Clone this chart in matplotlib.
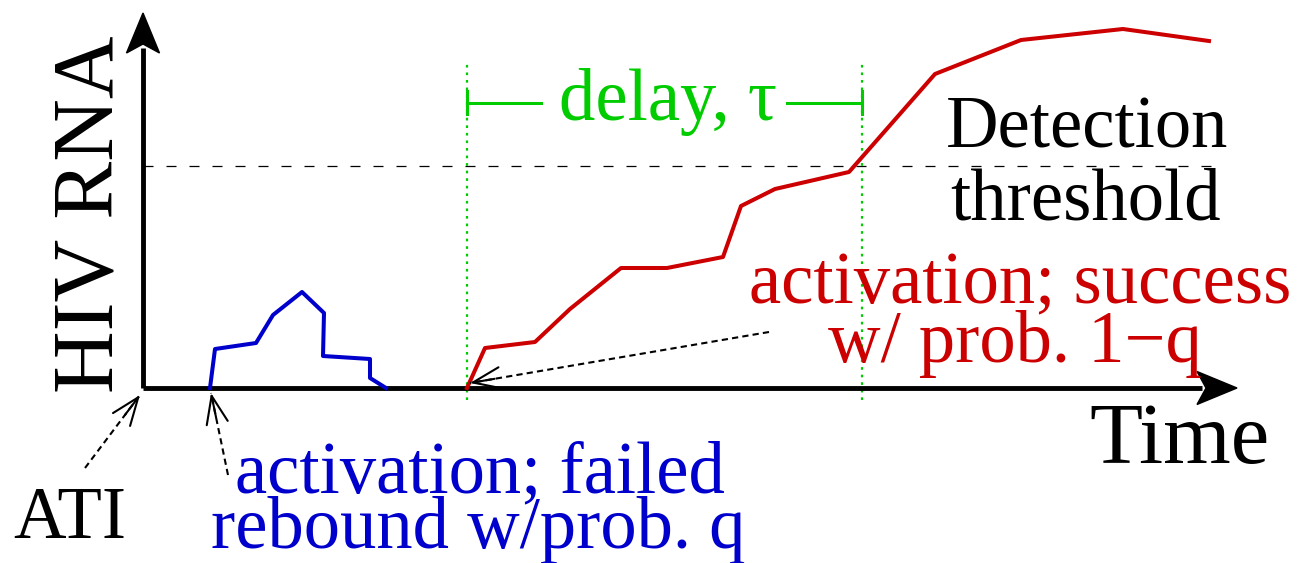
import numpy as np
import matplotlib
matplotlib.use("Agg")
import matplotlib.pyplot as plt

# Schematic of viral rebound after ATI (units: arbitrary time / arbitrary RNA)
# Failed rebound (blue)
blue_t = [6.7, 7.2, 11.3, 13.0, 15.9, 18.1, 18.0, 22.7, 22.7, 24.3]
blue_v = [0.0, 3.9, 4.5, 7.3, 9.6, 7.5, 3.2, 2.9, 1.0, 0.0]

# Successful rebound (red)
red_t = [32.4, 34.2, 39.2, 42.7, 47.8, 52.4, 58.0, 59.8, 63.2, 70.6, 79.2, 87.8, 98.0, 106.6]
red_v = [0.0, 4.0, 4.6, 7.9, 12.0, 12.0, 13.1, 18.2, 19.9, 21.6, 31.4, 34.8, 35.9, 34.7]

threshold = 22.2
t_activation = 32.4
t_detect = 71.9
t_end = 109.4
v_end = 37.5

RED = "#cc0000"
BLUE = "#0000cc"
GREEN = "#00cc00"
FONT = "Liberation Serif"
FS = 52.3      # annotation text
FS_AX = 62.5   # axis labels

fig = plt.figure(figsize=(13.03, 5.63), dpi=100)
ax = fig.add_axes([0, 0, 1, 1])
ax.set_xlim(-14.3, 116.0)
ax.set_ylim(-17.5, 38.8)
ax.axis("off")

# --- axes with arrow heads ---
ax.plot([0, t_end - 3.5], [0, 0], color="black", lw=3.5, solid_capstyle="butt", zorder=3)
ax.plot([0, 0], [0, v_end - 3.5], color="black", lw=3.5, solid_capstyle="butt", zorder=3)
hl, hw, notch = 4.0, 1.65, 3.1
ax.fill([t_end, t_end - hl, t_end - notch, t_end - hl], [0, hw, 0, -hw], color="black", zorder=3)
ax.fill([0, hw, 0, -hw], [v_end, v_end - hl, v_end - notch, v_end - hl], color="black", zorder=3)

# --- detection threshold ---
ax.plot([0, 108.0], [threshold, threshold], color="black", lw=0.9,
        linestyle=(0, (8, 10.4)), zorder=1)

# --- delay markers ---
for t in [t_activation, t_detect]:
    ax.plot([t, t], [-1.2, 32.6], color=GREEN, lw=1.6, linestyle=(0, (1.2, 2.2)), zorder=1)
bar_y = 28.5
ax.plot([t_activation, 39.8], [bar_y, bar_y], color=GREEN, lw=2.2)
ax.plot([64.4, t_detect], [bar_y, bar_y], color=GREEN, lw=2.2)
for t in [t_activation, t_detect]:
    ax.plot([t, t], [bar_y - 1.15, bar_y + 1.15], color=GREEN, lw=2.2)
ax.text(41.6, 26.8, "delay, τ", color=GREEN, fontsize=FS, family=FONT,
        ha="left", va="baseline")

# --- trajectories ---
ax.plot(blue_t, blue_v, color=BLUE, lw=2.9, zorder=4)
ax.plot(red_t, red_v, color=RED, lw=2.9, zorder=4)


def dashed_arrow(tail, tip):
    tail = np.array(tail)
    tip = np.array(tip)
    ax.plot([tail[0], tip[0]], [tail[1], tip[1]], color="black", lw=1.5,
            linestyle=(0, (3, 2)), zorder=5)
    d = (tip - tail) / np.hypot(*(tip - tail))
    ax.annotate("", xy=tip, xytext=tip - 2.5 * d,
                arrowprops=dict(arrowstyle="->,head_length=1.0,head_width=0.385",
                                mutation_scale=20, lw=1.5, color="black",
                                shrinkA=0, shrinkB=0), zorder=5)


dashed_arrow((-5.8, -8.0), (-0.3, -0.7))
dashed_arrow((8.5, -8.7), (6.8, -0.5))
dashed_arrow((62.6, 5.6), (32.7, 0.5))

# --- labels ---
ax.text(-3.0, 17.4, "HIV RNA", fontsize=FS_AX, family=FONT, rotation=90,
        rotation_mode="anchor", ha="center", va="baseline")
ax.text(94.6, -7.5, "Time", fontsize=FS_AX, family=FONT, ha="left", va="baseline")
ax.text(94.4, 24.0, "Detection", fontsize=FS, family=FONT, ha="center", va="baseline")
ax.text(94.3, 16.8, "threshold", fontsize=FS, family=FONT, ha="center", va="baseline")

ax.text(60.6, 8.5, "activation; success", color=RED, fontsize=FS, family=FONT,
        ha="left", va="baseline")
ax.text(68.5, 2.6, "w/ prob. 1\u2212q", color=RED, fontsize=FS, family=FONT,
        ha="left", va="baseline")

ax.text(9.2, -10.4, "activation; failed", color=BLUE, fontsize=FS, family=FONT,
        ha="left", va="baseline")
ax.text(6.8, -16.0, "rebound w/prob. q", color=BLUE, fontsize=FS, family=FONT,
        ha="left", va="baseline")
ax.text(-13.0, -15.0, "ATI", fontsize=FS, family=FONT, ha="left", va="baseline")

fig.savefig("out.png", dpi=100)
